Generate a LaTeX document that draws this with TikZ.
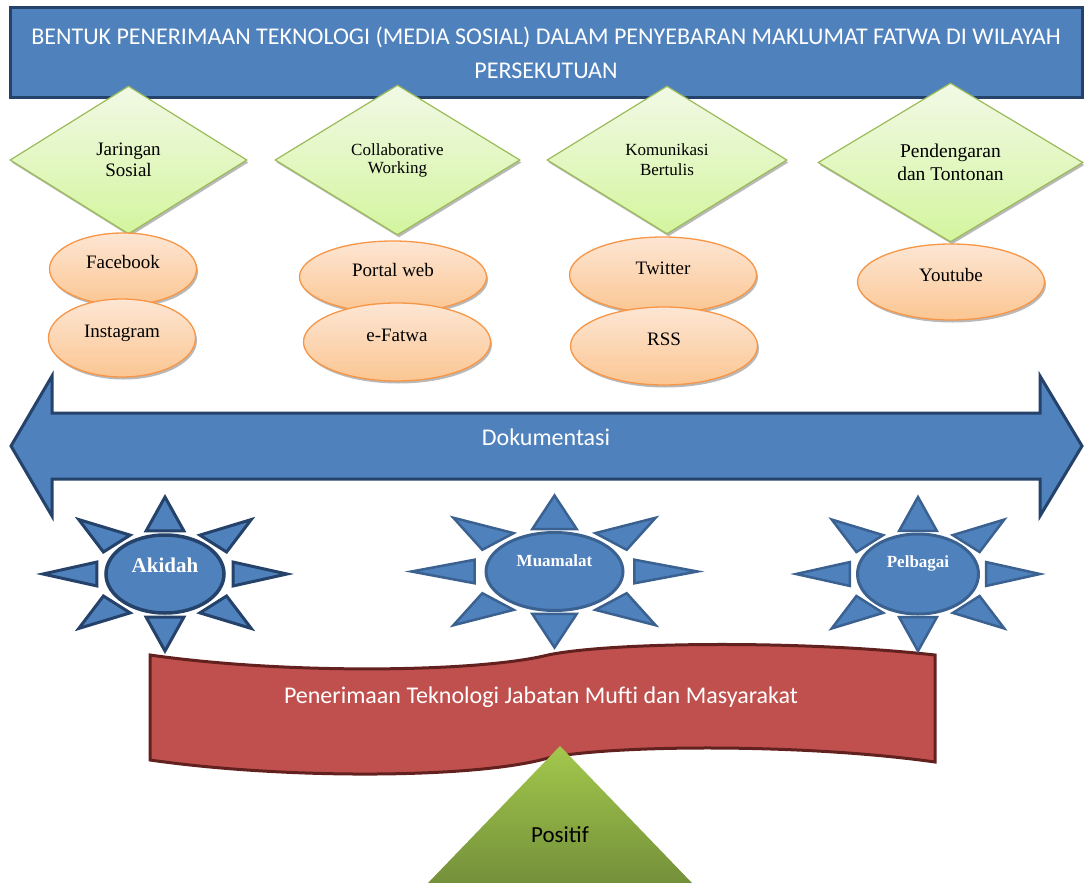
\documentclass[tikz,border=0pt]{standalone}
\usepackage{fontspec}
\setmainfont{Liberation Serif}
\newfontfamily\calibri{Carlito}
\usetikzlibrary{shapes.geometric,shadows}

\definecolor{biru}{HTML}{4F81BD}
\definecolor{birugelap}{HTML}{25426A}
\definecolor{birusinar}{HTML}{3A6190}
\definecolor{hijaugaris}{HTML}{9BBB59}
\definecolor{hijauatas}{HTML}{F1F9E6}
\definecolor{hijaubawah}{HTML}{D4F59E}
\definecolor{oren}{HTML}{F79646}
\definecolor{orenatas}{HTML}{FDE6D4}
\definecolor{orenbawah}{HTML}{FBC692}
\definecolor{merah}{HTML}{C0504D}
\definecolor{merahgelap}{HTML}{62211F}
\definecolor{hijaupuncak}{HTML}{A3C84C}
\definecolor{hijaudasar}{HTML}{74903A}

\tikzset{
  basic/.style  = {align=center, inner sep=0pt},
  bayang/.style = {drop shadow={shadow xshift=1.5pt, shadow yshift=-2.5pt, fill=black!55, opacity=.5}},
  tajuk/.style  = {basic, rectangle, draw=birugelap, line width=3pt, fill=biru, text=white,
                   font=\calibri\fontsize{24}{34}\selectfont},
  kategori/.style = {basic, diamond, bayang, draw=hijaugaris, line width=1.2pt,
                   top color=hijauatas, bottom color=hijaubawah},
  media/.style  = {basic, ellipse, bayang, draw=oren, line width=1.3pt,
                   top color=orenatas, bottom color=orenbawah,
                   text height=0pt, text depth=1pt, font=\fontsize{19}{22}\selectfont},
  panah/.style  = {draw=birugelap, line width=3pt, fill=biru, line join=miter},
  bendera/.style = {draw=merahgelap, line width=3pt, fill=merah},
  sinar/.style  = {draw=birusinar, line width=2.5pt, fill=biru},
  sinar tebal/.style = {sinar, draw=birugelap, line width=3pt},
  pusat/.style  = {basic, ellipse, draw=birusinar, line width=3pt, fill=biru, text=white,
                   text height=0pt, font=\bfseries\fontsize{17}{20}\selectfont},
  label putih/.style = {text=white, font=\calibri\fontsize{24}{28}\selectfont}
}

\begin{document}
\begin{tikzpicture}[x=1pt,y=-1pt]
\useasboundingbox (0,0) rectangle (1084,883);

% tajuk utama
\node[tajuk, minimum width=1072pt, minimum height=89pt] (tajuk) at (546,52.5)
  {BENTUK PENERIMAAN TEKNOLOGI (MEDIA SOSIAL) DALAM PENYEBARAN MAKLUMAT FATWA DI WILAYAH\\PERSEKUTUAN};

% bentuk media sosial
\node[kategori, minimum width=237pt, minimum height=148pt, font=\fontsize{19}{21}\selectfont] (jaringan) at (128.5,160) {Jaringan\\Sosial};
\node[kategori, minimum width=245pt, minimum height=150pt, font=\fontsize{17}{18}\selectfont] (kolaborasi) at (397.5,160) {Collaborative\\Working};
\node[kategori, minimum width=240pt, minimum height=148pt, font=\fontsize{17}{20}\selectfont] (komunikasi) at (667,160) {Komunikasi\\Bertulis};
\node[kategori, minimum width=265pt, minimum height=159pt, font=\fontsize{19.5}{23}\selectfont] (pendengaran) at (950.5,162.5) {Pendengaran\\dan Tontonan};

\node[media, minimum width=147pt, minimum height=72pt] (facebook) at (123,269) {Facebook};
\node[media, minimum width=147pt, minimum height=78pt] (instagram) at (122,338) {Instagram};
\node[media, minimum width=187pt, minimum height=72pt] (portal) at (393,277) {Portal web};
\node[media, minimum width=187pt, minimum height=78pt] (efatwa) at (397,342) {e-Fatwa};
\node[media, minimum width=187pt, minimum height=76pt] (twitter) at (663,275) {Twitter};
\node[media, minimum width=187pt, minimum height=78pt] (rss) at (664,346) {RSS};
\node[media, minimum width=187pt, minimum height=76pt] (youtube) at (951,282) {Youtube};

% anak panah dua hala
\draw[panah] (11,446) -- (52,376) -- (52,413) -- (1040,413) -- (1040,376) -- (1082,446)
  -- (1040,516) -- (1040,479) -- (52,479) -- (52,516) -- cycle;
\node[label putih] (dokumentasi) at (546,437) {Dokumentasi};

% panji penerimaan
\draw[bendera] (150,655) .. controls (290,675) and (480,672) .. (548,655)
  .. controls (610,642) and (800,640) .. (935,655) -- (935,762)
  .. controls (800,743) and (610,745) .. (548,758)
  .. controls (480,778) and (290,780) .. (150,760) -- cycle;
\node[label putih] (penerimaan) at (541,697) {Penerimaan Teknologi Jabatan Mufti dan Masyarakat};

% matahari bidang fatwa
\foreach \cx/\cy/\w/\h/\gaya in {165/574/122/77/sinar tebal, 554.5/571.5/143/76/sinar, 918/574/122/77/sinar}
  \foreach \a in {0,45,...,315}
    \filldraw[\gaya] ({\cx+\w*cos(\a)},{\cy+\h*sin(\a)})
      -- ({\cx+.58*\w*cos(\a+15.5)},{\cy+.58*\h*sin(\a+15.5)})
      -- ({\cx+.58*\w*cos(\a-15.5)},{\cy+.58*\h*sin(\a-15.5)}) -- cycle;
\node[pusat, draw=birugelap, line width=3.5pt, minimum width=118pt, minimum height=78pt,
      text depth=4pt, font=\bfseries\fontsize{21}{24}\selectfont] (akidah) at (165,574) {Akidah};
\node[pusat, minimum width=137pt, minimum height=78pt, text depth=11pt] (muamalat) at (554.5,571.5) {Muamalat};
\node[pusat, minimum width=121pt, minimum height=80pt, text depth=13pt] (pelbagai) at (918,574) {Pelbagai};

% segi tiga positif
\shade[top color=hijaupuncak, bottom color=hijaudasar] (560,746) -- (692,883) -- (428,883) -- cycle;
\node[font=\calibri\fontsize{23}{26}\selectfont] (positif) at (560,835) {Positif};
\end{tikzpicture}
\end{document}
